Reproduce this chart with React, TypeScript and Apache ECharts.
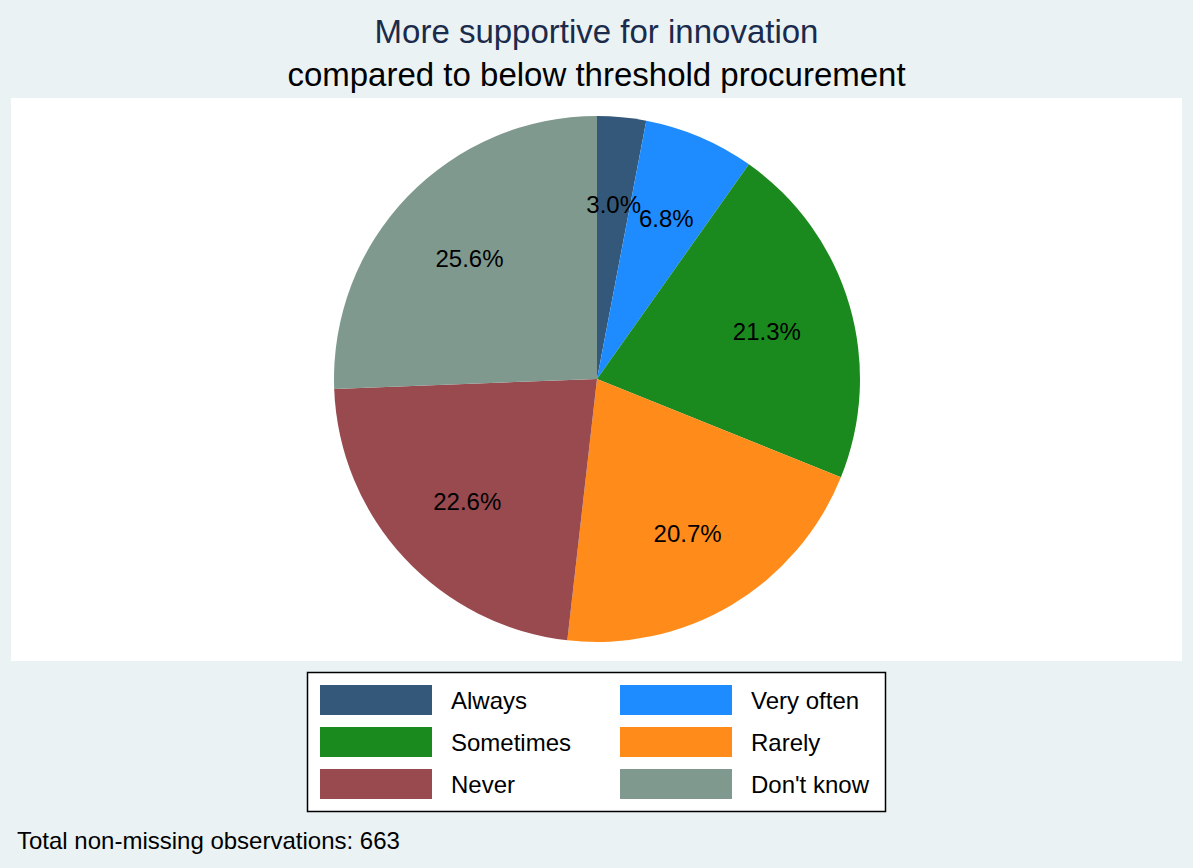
import React, { useEffect, useRef } from "react";
import * as echarts from "echarts";

const categories = ["Always", "Very often", "Sometimes", "Rarely", "Never", "Don't know"];
const shares = [3.0, 6.8, 21.3, 20.7, 22.6, 25.6];
const colors = ["#34587a", "#1e8cff", "#1b8a1e", "#ff8c1a", "#984a4f", "#7f998e"];
const titleLines = ["More supportive for innovation", "compared to below threshold procurement"];
const note = "Total non-missing observations: 663";

const FONT = "'Liberation Sans', Arial, sans-serif";

export default function App() {
  const ref = useRef<HTMLDivElement>(null);
  useEffect(() => {
    if (!ref.current) return;
    const chart = echarts.init(ref.current, null, { renderer: "svg" });
    const data = categories.map((name, i) => ({
      name,
      value: shares[i],
      itemStyle: { color: colors[i] },
    }));
    const legendItem = (i: number) => ({
      orient: "horizontal",
      left: i % 2 === 0 ? 320 : 620,
      top: 685 + Math.floor(i / 2) * 42,
      itemWidth: 112,
      itemHeight: 30,
      icon: "rect",
      selectedMode: false,
      padding: 0,
      data: [categories[i]],
      textStyle: {
        fontFamily: FONT,
        fontSize: 24,
        color: "#000",
        padding: [0, 0, 0, 14],
      },
    });
    chart.setOption({
      animation: false,
      backgroundColor: "#eaf2f3",
      textStyle: { fontFamily: FONT },
      title: [
        {
          text: titleLines[0],
          left: "center",
          top: 10,
          textStyle: { fontFamily: FONT, fontSize: 33, fontWeight: "normal", color: "#1a2b4c" },
        },
        {
          text: titleLines[1],
          left: "center",
          top: 53,
          textStyle: { fontFamily: FONT, fontSize: 33, fontWeight: "normal", color: "#000" },
        },
        {
          text: note,
          left: 12,
          top: 823,
          textStyle: { fontFamily: FONT, fontSize: 24, fontWeight: "normal", color: "#000" },
        },
      ],
      graphic: [
        {
          type: "rect",
          z: -10,
          silent: true,
          shape: { x: 11, y: 98, width: 1171, height: 563 },
          style: { fill: "#ffffff" },
        },
        {
          type: "rect",
          z: -10,
          silent: true,
          shape: { x: 307.5, y: 672.5, width: 578, height: 139 },
          style: { fill: "#ffffff", stroke: "#000", lineWidth: 1.5 },
        },
      ],
      legend: categories.map((_, i) => legendItem(i)),
      series: [
        {
          type: "pie",
          center: [597, 379],
          radius: [0, 263],
          startAngle: 90,
          clockwise: true,
          silent: true,
          label: { show: false },
          labelLine: { show: false },
          itemStyle: { borderWidth: 0 },
          data,
        },
        {
          type: "pie",
          center: [597, 379],
          radius: [85, 263],
          startAngle: 90,
          clockwise: true,
          silent: true,
          avoidLabelOverlap: false,
          labelLayout: { hideOverlap: false },
          z: 5,
          itemStyle: { color: "rgba(0,0,0,0)", borderWidth: 0 },
          label: {
            show: true,
            position: "inside",
            formatter: (p: any) => p.value.toFixed(1) + "%",
            fontFamily: FONT,
            fontSize: 24,
            color: "#000",
            offset: [0, 2],
          },
          labelLine: { show: false },
          data: categories.map((name, i) => ({ name, value: shares[i] })),
        },
      ],
    });
    return () => chart.dispose();
  }, []);
  return (
    <div
      ref={ref}
      style={{ position: "fixed", left: 0, top: 0, width: 1193, height: 868 }}
    />
  );
}
